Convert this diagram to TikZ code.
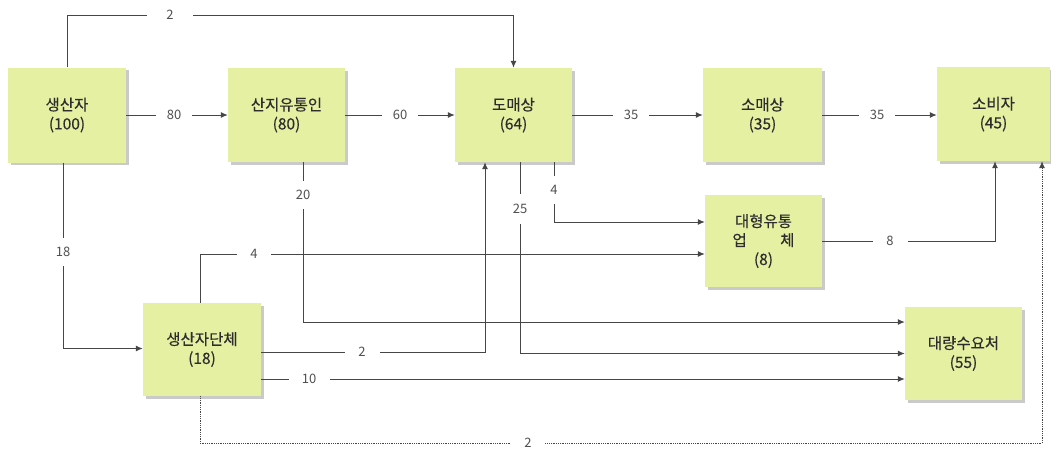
\documentclass[tikz,border=0pt]{standalone}
\usepackage{fontspec}
\setmainfont{Noto Sans CJK KR}
\newfontfamily\boxfont{Noto Sans CJK KR}[FakeBold=0.3]
\usetikzlibrary{calc,arrows.meta,shadows}
\definecolor{boxfill}{RGB}{230,240,163}
\definecolor{linec}{RGB}{70,70,70}
\definecolor{txtc}{RGB}{45,45,45}
\definecolor{lblc}{RGB}{80,80,80}
\tikzset{
  box/.style={fill=boxfill, draw=none, align=center, text=txtc,
    font=\boxfont\fontsize{15.5}{19}\selectfont, inner sep=0pt,
    drop shadow={shadow xshift=2.5pt, shadow yshift=-2.5pt, fill=black!35, opacity=0.6}},
  arr/.style={draw=linec, line width=1pt, -{Latex[length=7pt,width=6pt]}},
  dline/.style={draw=linec, line width=0.8pt, dash pattern=on 1pt off 0.8pt, -{Latex[length=7pt,width=6pt]}},
  hl/.style={fill=white, text=lblc, font=\fontsize{13}{15}\selectfont, minimum width=36pt, minimum height=12pt, inner sep=0pt},
  vl/.style={fill=white, text=lblc, font=\fontsize{13}{15}\selectfont, minimum width=16pt, minimum height=28pt, inner sep=0pt},
}
\begin{document}
\begin{tikzpicture}[x=1pt,y=-1pt]
\useasboundingbox (0,0) rectangle (1051,451);
% boxes
\node[box, minimum width=118pt, minimum height=95pt] (prod) at (67,115) {생산자\\(100)};
\node[box, minimum width=117pt, minimum height=94pt] (sanji) at (286.5,115) {산지유통인\\(80)};
\node[box, minimum width=117pt, minimum height=94pt] (whole) at (513.5,115) {도매상\\(64)};
\node[box, minimum width=119pt, minimum height=94pt] (retail) at (762.5,115) {소매상\\(35)};
\node[box, minimum width=113pt, minimum height=94pt] (cons) at (993.5,114) {소비자\\(45)};
\node[box, minimum width=117pt, minimum height=92pt] (large) at (763.5,241) {대형유통\\\makebox[4em][s]{업\hfill 체}\\(8)};
\node[box, minimum width=118pt, minimum height=93pt] (group) at (202,349.5) {생산자단체\\(18)};
\node[box, minimum width=117pt, minimum height=93pt] (bulk) at (963.5,353.5) {대량수요처\\(55)};
% connectors
\draw[arr] (prod.north) -- ++(0,-52) -| (whole.north);
\draw[arr] (prod.east) -- (sanji.west);
\draw[arr] (sanji.east) -- (whole.west);
\draw[arr] (whole.east) -- (retail.west);
\draw[arr] (retail.east) -- (retail.east -| cons.west);
\draw[arr] ($(prod.south)+(-4,0)$) |- ($(group.west)+(0,-1)$);
\draw[arr] ($(sanji.south)+(16.5,0)$) |- ($(bulk.west)+(0,-31.5)$);
\draw[arr] ($(whole.south)+(6.5,0)$) |- (bulk.west);
\draw[arr] ($(whole.south)+(40.5,0)$) |- ($(large.west)+(0,-19)$);
\draw[arr] ($(group.north)+(-2,0)$) |- ($(large.west)+(0,13)$);
\draw[arr] ($(group.east)+(0,2.5)$) -| ($(whole.south)+(-28.5,0)$);
\draw[arr] ($(group.east)+(0,29.5)$) -- ($(bulk.west)+(0,25.5)$);
\draw[arr] (large.east) -| ($(cons.south)+(1.5,0)$);
\draw[dline] ($(group.south)+(-2,0)$) -- ++(0,47) -| ($(cons.south)+(48.5,0)$);
% labels
\node[hl, minimum width=46pt] (l1) at (170,15) {2};
\node[hl] (l2) at (174,115) {80};
\node[hl] (l3) at (400,115) {60};
\node[hl] (l4) at (631,115) {35};
\node[hl] (l5) at (877,115) {35};
\node[vl] (l6) at (63,252) {18};
\node[vl] (l7) at (303,195) {20};
\node[vl, minimum height=30pt] (l8) at (520,209) {25};
\node[vl] (l9) at (554,190) {4};
\node[hl, minimum width=34pt] (l10) at (254,254) {4};
\node[hl, minimum width=35pt] (l11) at (362,352) {2};
\node[hl, minimum width=41pt] (l12) at (309,379) {10};
\node[hl, minimum width=35pt] (l13) at (890,241) {8};
\node[hl, minimum width=34pt] (l14) at (528,443) {2};
\end{tikzpicture}
\end{document}
